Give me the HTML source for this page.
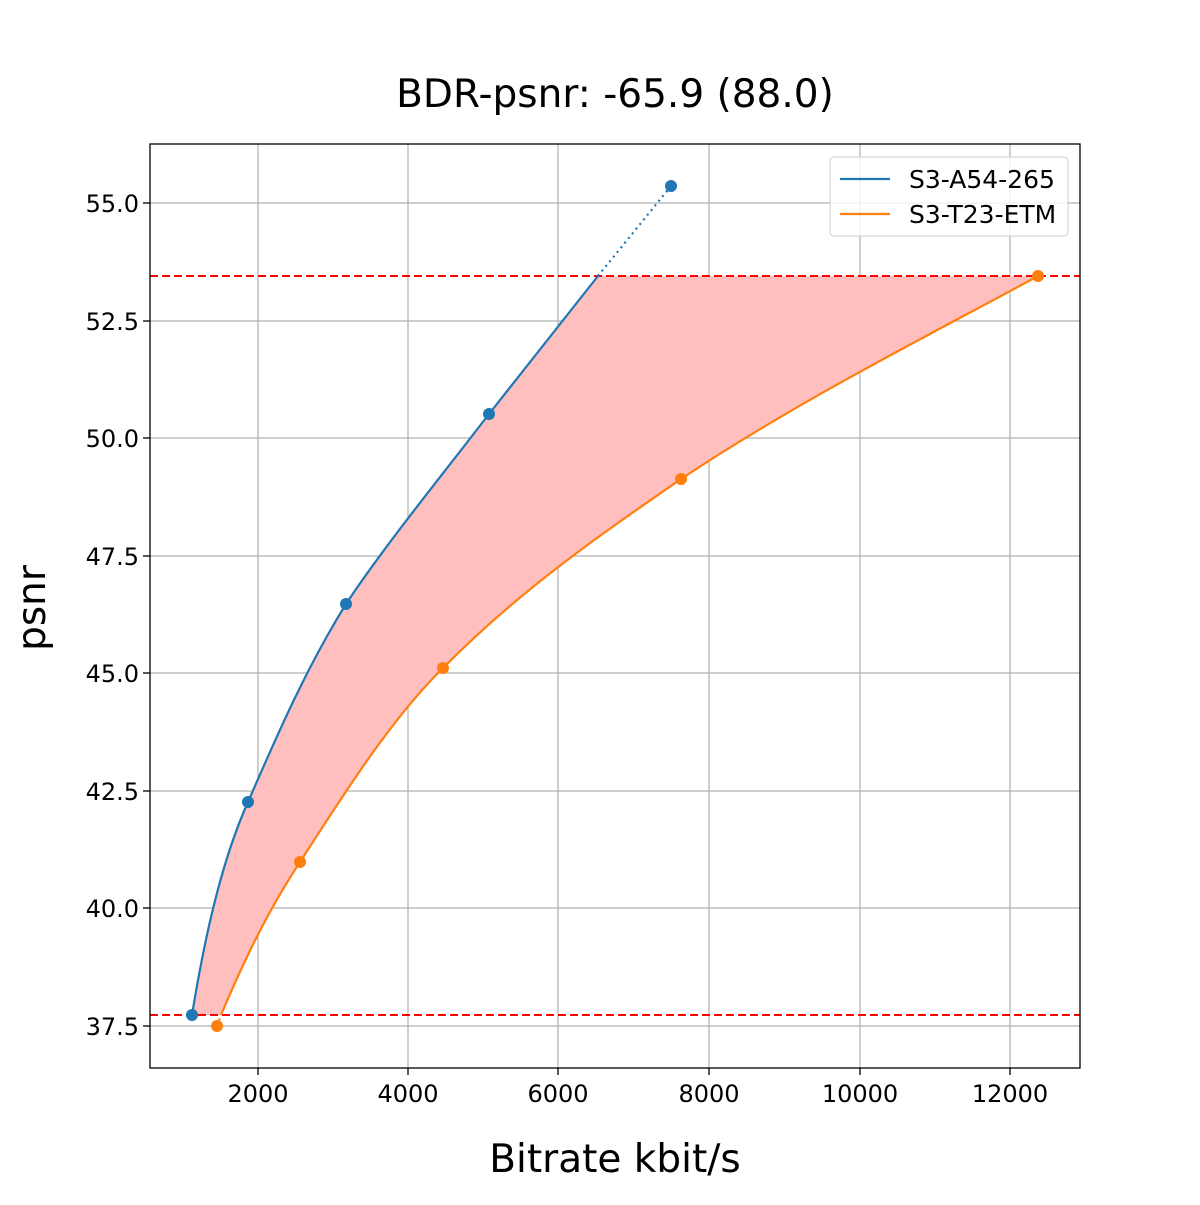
<!DOCTYPE html>
<html><head><meta charset="utf-8"><style>
html,body{margin:0;padding:0;background:#fff;}
svg text{font-family:"DejaVu Sans","Liberation Sans",sans-serif;fill:#000;}
</style></head><body>
<svg width="1200" height="1200" viewBox="0 0 1200 1200" xmlns="http://www.w3.org/2000/svg">
<rect width="1200" height="1200" fill="#fff"/>
<g stroke="#b0b0b0" stroke-width="1.2">
<line x1="258" y1="144" x2="258" y2="1068"/>
<line x1="408" y1="144" x2="408" y2="1068"/>
<line x1="558" y1="144" x2="558" y2="1068"/>
<line x1="709" y1="144" x2="709" y2="1068"/>
<line x1="860" y1="144" x2="860" y2="1068"/>
<line x1="1010" y1="144" x2="1010" y2="1068"/>
<line x1="150" y1="203" x2="1080" y2="203"/>
<line x1="150" y1="321" x2="1080" y2="321"/>
<line x1="150" y1="438" x2="1080" y2="438"/>
<line x1="150" y1="556" x2="1080" y2="556"/>
<line x1="150" y1="673" x2="1080" y2="673"/>
<line x1="150" y1="791" x2="1080" y2="791"/>
<line x1="150" y1="908" x2="1080" y2="908"/>
<line x1="150" y1="1026" x2="1080" y2="1026"/>
</g>
<path d="M192,1015 C205,935 222,860 248,802 C275,740 305,670 346,604 C385,545 440,478 489,414 L598,276 L1038,276 C920,340 800,400 681,479 C600,535 520,590 443,668 C390,720 340,800 300,862 C265,915 240,970 221,1015 Z" fill="#ffbfbf"/>
<g stroke="#ff0000" stroke-width="2" stroke-dasharray="8,4">
<line x1="150" y1="276" x2="1080" y2="276"/>
<line x1="150" y1="1015" x2="1080" y2="1015"/>
</g>
<path d="M192,1015 C205,935 222,860 248,802 C275,740 305,670 346,604 C385,545 440,478 489,414 L598,276" fill="none" stroke="#1f77b4" stroke-width="2.2"/>
<line x1="598" y1="276" x2="671" y2="186" stroke="#1f77b4" stroke-width="2.2" stroke-dasharray="2,4"/>
<g fill="#1f77b4">
<circle cx="192" cy="1015" r="6"/><circle cx="248" cy="802" r="6"/><circle cx="346" cy="604" r="6"/><circle cx="489" cy="414" r="6"/><circle cx="671" cy="186" r="6"/>
</g>
<path d="M221,1015 C240,970 265,915 300,862 C340,800 390,720 443,668 C520,590 600,535 681,479 C800,400 920,340 1038,276" fill="none" stroke="#ff7f0e" stroke-width="2.2"/>
<line x1="217" y1="1026" x2="221" y2="1015" stroke="#ff7f0e" stroke-width="2.2" stroke-dasharray="2,4"/>
<g fill="#ff7f0e">
<circle cx="217" cy="1026" r="6"/><circle cx="300" cy="862" r="6"/><circle cx="443" cy="668" r="6"/><circle cx="681" cy="479" r="6"/><circle cx="1038" cy="276" r="6"/>
</g>
<rect x="150" y="144" width="930" height="924" fill="none" stroke="#000" stroke-width="1.3"/>
<g stroke="#000" stroke-width="1.3">
<line x1="258" y1="1068" x2="258" y2="1075"/><line x1="408" y1="1068" x2="408" y2="1075"/><line x1="558" y1="1068" x2="558" y2="1075"/><line x1="709" y1="1068" x2="709" y2="1075"/><line x1="860" y1="1068" x2="860" y2="1075"/><line x1="1010" y1="1068" x2="1010" y2="1075"/>
<line x1="143" y1="203" x2="150" y2="203"/><line x1="143" y1="321" x2="150" y2="321"/><line x1="143" y1="438" x2="150" y2="438"/><line x1="143" y1="556" x2="150" y2="556"/><line x1="143" y1="673" x2="150" y2="673"/><line x1="143" y1="791" x2="150" y2="791"/><line x1="143" y1="908" x2="150" y2="908"/><line x1="143" y1="1026" x2="150" y2="1026"/>
</g>
<g font-size="24" text-anchor="middle">
<text x="258" y="1102">2000</text><text x="408" y="1102">4000</text><text x="558" y="1102">6000</text><text x="709" y="1102">8000</text><text x="860" y="1102">10000</text><text x="1010" y="1102">12000</text>
</g>
<g font-size="24" text-anchor="end">
<text x="139" y="212">55.0</text><text x="139" y="330">52.5</text><text x="139" y="447">50.0</text><text x="139" y="565">47.5</text><text x="139" y="682">45.0</text><text x="139" y="800">42.5</text><text x="139" y="917">40.0</text><text x="139" y="1035">37.5</text>
</g>
<text x="615" y="107" font-size="39" text-anchor="middle">BDR-psnr: -65.9 (88.0)</text>
<text x="615" y="1172" font-size="39" text-anchor="middle">Bitrate kbit/s</text>
<text transform="translate(45,608) rotate(-90)" font-size="39" text-anchor="middle">psnr</text>
<rect x="830" y="157" width="238" height="79" rx="4" fill="#fff" fill-opacity="0.8" stroke="#ccc" stroke-width="1"/>
<line x1="840" y1="179" x2="890" y2="179" stroke="#1f77b4" stroke-width="2.2"/>
<line x1="840" y1="214" x2="890" y2="214" stroke="#ff7f0e" stroke-width="2.2"/>
<text x="909" y="188" font-size="25">S3-A54-265</text>
<text x="909" y="223" font-size="25">S3-T23-ETM</text>
</svg>
</body></html>
